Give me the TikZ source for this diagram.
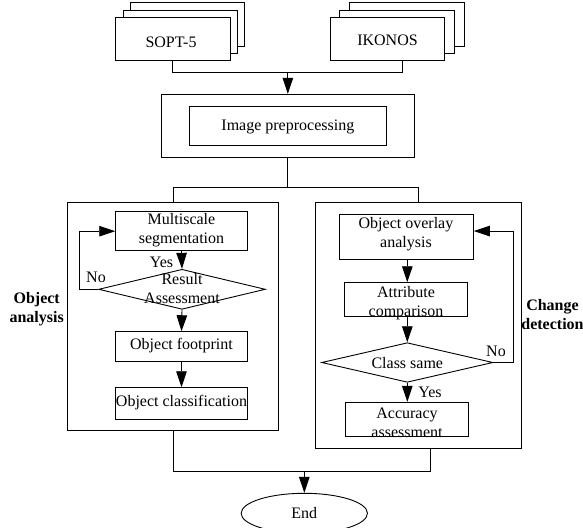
\documentclass[tikz,border=0pt]{standalone}
\usepackage{fontspec}
\setmainfont{Liberation Serif}
\usetikzlibrary{arrows.meta,shapes.geometric}
\begin{document}
\begin{tikzpicture}[x=1pt,y=-1pt,
  line width=0.9pt,
  box/.style={draw,fill=white,inner sep=0pt},
  txt/.style={inner sep=0pt,align=center,font=\fontsize{16}{19}\selectfont},
  bold/.style={inner sep=0pt,align=center,font=\fontsize{16}{19}\selectfont\bfseries},
  arr/.style={-{Triangle[length=16pt,width=10.5pt]}},
  dia/.style={draw,diamond,inner sep=0pt},
]
\useasboundingbox (0,0) rectangle (583,527);

% source stacks
\node[box,minimum width=114.3,minimum height=43.3] (sopt3) at (187.2,24.35) {};
\node[box,minimum width=114.4,minimum height=43.3] (sopt2) at (180.5,31.65) {};
\node[box,minimum width=115,minimum height=43] (sopt) at (172.8,38.8) {};
\node[txt] (sopttxt) at (171,42.5) {SOPT-5};

\node[box,minimum width=114.7,minimum height=43.3] (ik3) at (406.65,24.35) {};
\node[box,minimum width=114.7,minimum height=43.3] (ik2) at (396.65,31.65) {};
\node[box,minimum width=114.7,minimum height=43] (ik) at (387.35,38.8) {};
\node[txt] (iktxt) at (387.5,40) {IKONOS};

\coordinate (ikj) at (402,72.7);
\coordinate (tj) at (287.85,72.7);
\draw (sopt.south) |- (ikj) -- (ik.south -| ikj);

% preprocessing
\node[box,minimum width=252.3,minimum height=63] (pre) at (287.85,125.8) {};
\node[box,minimum width=197.7,minimum height=39.7] (prein) at (287.85,125.85) {};
\node[txt] (pretxt) at (287.85,126.7) {Image preprocessing};
\draw[arr] (tj) -- (pre.north);

% group boxes
\node[draw,inner sep=0pt,minimum width=211.4,minimum height=228] (leftbox) at (173,316.7) {};
\node[draw,inner sep=0pt,minimum width=206,minimum height=245.6] (rightbox) at (418.7,325.5) {};
\coordinate (split) at (0,187.5);
\draw (pre.south) -- (pre.south |- split);
\draw (leftbox.north) -- (leftbox.north |- split) -- (rightbox.north |- split) -- (rightbox.north);

% object analysis
\node[box,minimum width=131.6,minimum height=39] (seg) at (181.5,231.2) {};
\node[txt] (segtxt) at (181.5,230.4) {Multiscale\\segmentation};
\node[dia,minimum width=166.7,minimum height=40] (res) at (182,289.3) {};
\node[txt] (restxt) at (182,288.7) {Result\\Assessment};
\node[box,minimum width=131.6,minimum height=29.8] (foot) at (181.5,346.6) {};
\node[txt] (foottxt) at (181.5,345.5) {Object footprint};
\node[box,minimum width=131.7,minimum height=31.6] (cls) at (181.5,403.5) {};
\node[txt] (clstxt) at (181.5,402.5) {Object classification};

\draw[arr] (seg.south) -- (res.north);
\draw[arr] (res.south) -- (foot.north);
\draw[arr] (foot.south) -- (cls.north);
\draw[arr] (res.west) -- ++(-19,0) |- (seg.west);
\node[txt] (yes1) at (161.5,262) {Yes};
\node[txt] (no1) at (96,277.3) {No};
\node[bold] (oa) at (36.7,308.8) {Object\\analysis};

% change detection
\node[box,minimum width=134,minimum height=45.3] (ovl) at (406.3,236.65) {};
\node[txt] (ovltxt) at (406,234.2) {Object overlay\\analysis};
\node[box,minimum width=123.3,minimum height=34] (att) at (405.65,299.7) {};
\node[txt] (atttxt) at (406,302.8) {Attribute\\comparison};
\node[dia,minimum width=171.3,minimum height=39.6] (cs) at (407.3,362.5) {};
\node[txt] (cstxt) at (407.3,362.7) {Class same};
\node[box,minimum width=122.6,minimum height=34.4] (acc) at (407,419.5) {};
\node[txt] (acctxt) at (407,422.9) {Accuracy\\assessment};

\draw[arr] (ovl.south -| 407.3,0) -- (att.north -| 407.3,0);
\draw[arr] (att.south -| 407.3,0) -- (cs.north);
\draw[arr] (cs.south) -- (acc.north -| cs.south);
\draw[arr] (cs.east) -- ++(20.5,0) |- ([yshift=5.6pt]ovl.east);
\node[txt] (no2) at (496,351.7) {No};
\node[txt] (yes2) at (430,392.7) {Yes};
\node[bold] (cd) at (552.5,314.6) {Change\\detection};

% end
\coordinate (rbx) at (430,0);
\coordinate (jn) at (304.3,471);
\node[draw,ellipse,inner sep=0pt,minimum width=126.3,minimum height=40,font=\fontsize{16}{19}\selectfont] (end) at (304.3,513.3) {End};
\draw (leftbox.south) -- (leftbox.south |- jn) -- (jn -| rbx) -- (rightbox.south -| rbx);
\draw[arr] (jn) -- (end.north);
\end{tikzpicture}
\end{document}
